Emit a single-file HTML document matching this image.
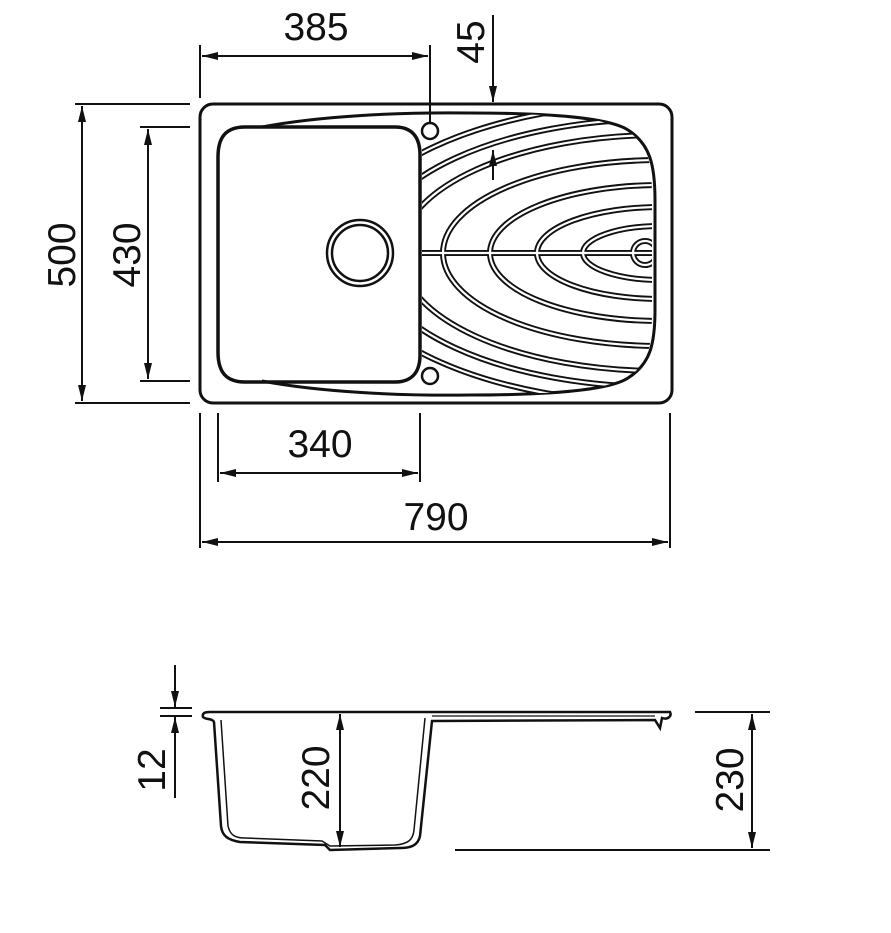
<!DOCTYPE html>
<html><head><meta charset="utf-8"><style>
html,body{margin:0;padding:0;background:#fff;}
svg{display:block}
text{font-family:"Liberation Sans",Arial,sans-serif;font-size:39px;fill:#111;}
</style></head><body>
<svg width="891" height="933" viewBox="0 0 891 933" xmlns="http://www.w3.org/2000/svg">
<defs>
<marker id="a" viewBox="0 0 16 10" refX="16" refY="5" markerWidth="16" markerHeight="10" orient="auto-start-reverse" markerUnits="userSpaceOnUse"><path d="M0,1 L16,5 L0,9 z" fill="#111"/></marker>
<clipPath id="dr"><path d="M422,150 C424,128 440,118 470,116 C540,112 600,116 625,130 C648,142 652,160 652,200 L652,310 C652,350 648,366 625,378 C600,392 540,396 470,392 C440,390 424,382 422,360 Z"/></clipPath>
</defs>
<g fill="none" stroke="#111" stroke-width="3">
<rect x="200" y="104" width="472" height="299" rx="13"/>
<path d="M262,127 C320,116 400,112 470,113 C550,113 610,118 628,130 C650,144 655,165 655,200 L655,310 C655,345 650,364 628,378 C610,390 550,395 470,395 C400,396 320,392 262,381" stroke-width="3"/>
<path d="M245,127 L395,127 C412,127 420,137 420,155 L420,355 C420,372 412,382 395,382 L245,382 C226,382 218,372 218,352 L218,157 C218,137 226,127 245,127 Z" stroke-width="3.5"/>
<circle cx="430" cy="131" r="8" stroke-width="2.5"/>
<circle cx="430" cy="376" r="8" stroke-width="2.5"/>
<circle cx="360" cy="253" r="33" stroke-width="2.5"/>
<circle cx="360" cy="253" r="28" stroke-width="2.5"/>
</g>
<g clip-path="url(#dr)" fill="none">
<g stroke="#111" stroke-width="6">
<ellipse cx="660" cy="253" rx="217" ry="93"/>
<ellipse cx="660" cy="253" rx="170" ry="68"/>
<ellipse cx="660" cy="253" rx="123" ry="46"/>
<ellipse cx="660" cy="253" rx="77" ry="27"/>
<ellipse cx="660" cy="253" rx="260" ry="118"/>
<ellipse cx="660" cy="253" rx="290" ry="134"/>
<ellipse cx="660" cy="253" rx="320" ry="150"/>
<line x1="420" y1="253" x2="660" y2="253"/>
<circle cx="645" cy="253" r="12"/>
</g>
<g stroke="#fff" stroke-width="2.2">
<ellipse cx="660" cy="253" rx="217" ry="93"/>
<ellipse cx="660" cy="253" rx="170" ry="68"/>
<ellipse cx="660" cy="253" rx="123" ry="46"/>
<ellipse cx="660" cy="253" rx="77" ry="27"/>
<ellipse cx="660" cy="253" rx="260" ry="118"/>
<ellipse cx="660" cy="253" rx="290" ry="134"/>
<ellipse cx="660" cy="253" rx="320" ry="150"/>
<line x1="420" y1="253" x2="660" y2="253"/>
<circle cx="645" cy="253" r="12"/>
</g>
</g>
<g stroke="#111" stroke-width="2" fill="none">
<line x1="200" y1="45" x2="200" y2="98"/>
<line x1="430" y1="45" x2="430" y2="122"/>
<line x1="202" y1="56" x2="428" y2="56" marker-start="url(#a)" marker-end="url(#a)"/>
<line x1="493" y1="15" x2="493" y2="102" marker-end="url(#a)"/>
<line x1="493" y1="180" x2="493" y2="150" marker-end="url(#a)"/>
<line x1="75" y1="104" x2="190" y2="104"/>
<line x1="75" y1="403" x2="190" y2="403"/>
<line x1="82" y1="106" x2="82" y2="401" marker-start="url(#a)" marker-end="url(#a)"/>
<line x1="140" y1="127" x2="190" y2="127"/>
<line x1="140" y1="381" x2="190" y2="381"/>
<line x1="148" y1="129" x2="148" y2="379" marker-start="url(#a)" marker-end="url(#a)"/>
<line x1="218" y1="413" x2="218" y2="482"/>
<line x1="420" y1="413" x2="420" y2="482"/>
<line x1="220" y1="473" x2="418" y2="473" marker-start="url(#a)" marker-end="url(#a)"/>
<line x1="200" y1="413" x2="200" y2="548"/>
<line x1="670" y1="413" x2="670" y2="548"/>
<line x1="202" y1="542" x2="668" y2="542" marker-start="url(#a)" marker-end="url(#a)"/>
</g>
<text x="316" y="40" text-anchor="middle">385</text>
<text transform="translate(484,42) rotate(-90)" text-anchor="middle">45</text>
<text transform="translate(75,255) rotate(-90)" text-anchor="middle">500</text>
<text transform="translate(140,255) rotate(-90)" text-anchor="middle">430</text>
<text x="320" y="457" text-anchor="middle">340</text>
<text x="436" y="530" text-anchor="middle">790</text>
<g fill="none" stroke="#111" stroke-width="2.5">
<path d="M210,712 L670,712 C672,716 668,720 662,718 L660,728 L655,720 L432,721 L420,836 C418,846 410,848 400,848 L330,850 L325,845 L240,842 C228,840 222,836 221,826 L214,722 C212,718 206,720 203,717 C202,713 205,712 210,712"/>
<path d="M221,720 L228,826 C230,835 235,838 245,838 L322,841 L330,846 L395,845 C408,844 413,840 414,830 L425,718" stroke-width="1.5"/>
<line x1="432" y1="716" x2="655" y2="716" stroke-width="1.2"/>
</g>
<g stroke="#111" stroke-width="2" fill="none">
<line x1="160" y1="708" x2="192" y2="708"/>
<line x1="160" y1="716" x2="192" y2="716"/>
<line x1="175" y1="665" x2="175" y2="707" marker-end="url(#a)"/>
<line x1="175" y1="798" x2="175" y2="717" marker-end="url(#a)"/>
<line x1="340" y1="714" x2="340" y2="847" marker-start="url(#a)" marker-end="url(#a)"/>
<line x1="695" y1="712" x2="770" y2="712"/>
<line x1="455" y1="850" x2="770" y2="850"/>
<line x1="752" y1="714" x2="752" y2="848" marker-start="url(#a)" marker-end="url(#a)"/>
</g>
<text transform="translate(165,770) rotate(-90)" text-anchor="middle">12</text>
<text transform="translate(329,778) rotate(-90)" text-anchor="middle">220</text>
<text transform="translate(743,780) rotate(-90)" text-anchor="middle">230</text>
</svg>
</body></html>
